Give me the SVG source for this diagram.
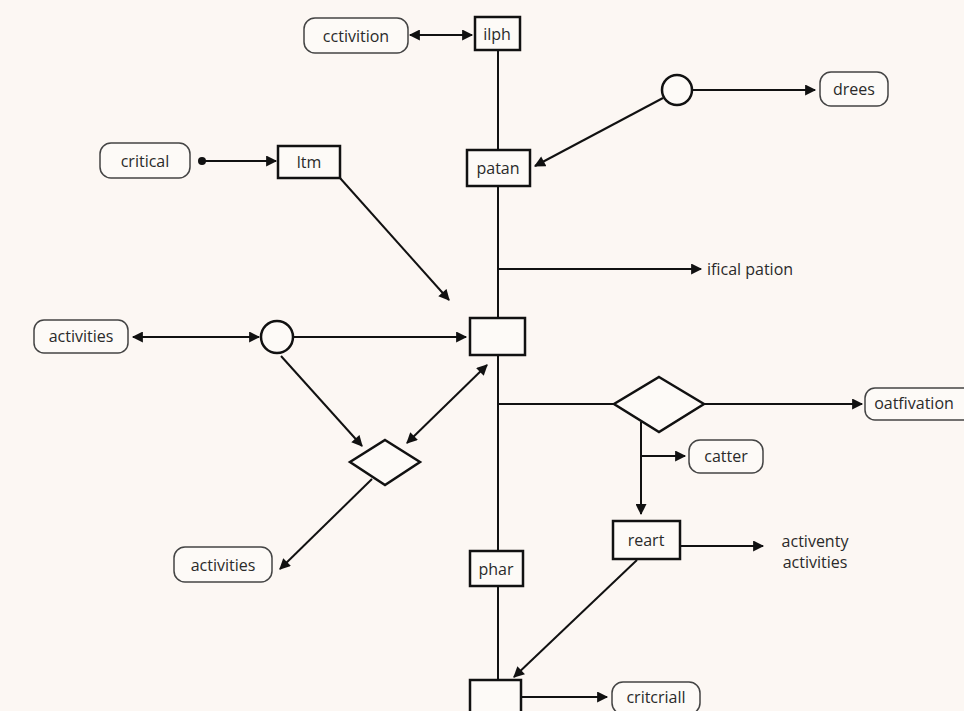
<svg xmlns="http://www.w3.org/2000/svg" width="964" height="711" viewBox="0 0 964 711">
<defs>
<marker id="ah" viewBox="0 0 10 10" refX="9" refY="5" markerWidth="12" markerHeight="11" markerUnits="userSpaceOnUse" orient="auto-start-reverse"><path d="M0,0 L10,5 L0,10 z" fill="#111"/></marker>
<marker id="dot" viewBox="0 0 10 10" refX="5" refY="5" markerWidth="8" markerHeight="8" markerUnits="userSpaceOnUse"><circle cx="5" cy="5" r="5" fill="#111"/></marker>
</defs>
<style>
.bg{fill:#fcf7f3}
.pill{fill:#fdfaf7;stroke:#444;stroke-width:1.5}
.box{fill:#fdfaf7;stroke:#111;stroke-width:2.5}
.shape{fill:#fdfaf7;stroke:#111;stroke-width:2.5}
.ln{fill:none;stroke:#111;stroke-width:2}
.t{font-family:"Open Sans","Noto Sans","DejaVu Sans",sans-serif;font-size:16px;fill:#2a2a2a;text-anchor:middle;dominant-baseline:central}
</style>
<rect class="bg" width="964" height="711"/>
<g id="connectors">
<line class="ln" x1="498" y1="50" x2="498" y2="680"/>
<line class="ln" x1="410" y1="35" x2="472" y2="35" marker-start="url(#ah)" marker-end="url(#ah)"/>
<line class="ln" x1="693" y1="90" x2="815" y2="90" marker-end="url(#ah)"/>
<line class="ln" x1="663" y1="98" x2="535" y2="166" marker-end="url(#ah)"/>
<line class="ln" x1="202" y1="161" x2="276" y2="161" marker-start="url(#dot)" marker-end="url(#ah)"/>
<line class="ln" x1="340" y1="178" x2="449" y2="300" marker-end="url(#ah)"/>
<line class="ln" x1="498" y1="269" x2="701" y2="269" marker-end="url(#ah)"/>
<line class="ln" x1="133" y1="337" x2="259" y2="337" marker-start="url(#ah)" marker-end="url(#ah)"/>
<line class="ln" x1="293" y1="337" x2="466" y2="337" marker-end="url(#ah)"/>
<line class="ln" x1="281" y1="356" x2="362" y2="446" marker-end="url(#ah)"/>
<line class="ln" x1="407" y1="443" x2="487" y2="365" marker-start="url(#ah)" marker-end="url(#ah)"/>
<line class="ln" x1="372" y1="479" x2="280" y2="569" marker-end="url(#ah)"/>
<line class="ln" x1="498" y1="404" x2="614" y2="404"/>
<line class="ln" x1="704" y1="404" x2="862" y2="404" marker-end="url(#ah)"/>
<line class="ln" x1="641" y1="422" x2="641" y2="514" marker-end="url(#ah)"/>
<line class="ln" x1="641" y1="456" x2="685" y2="456" marker-end="url(#ah)"/>
<line class="ln" x1="680" y1="546" x2="763" y2="546" marker-end="url(#ah)"/>
<line class="ln" x1="637" y1="560" x2="514" y2="677" marker-end="url(#ah)"/>
<line class="ln" x1="521" y1="697" x2="607" y2="697" marker-end="url(#ah)"/>
</g>
<g id="cctivition"><rect class="pill" x="304" y="18" width="104" height="35" rx="11"/><text class="t" x="356" y="36">cctivition</text></g>
<g id="ilph"><rect class="box" x="475" y="17" width="45" height="33"/><text class="t" x="497" y="34">ilph</text></g>
<g id="circle1"><circle class="shape" cx="677" cy="90" r="15"/></g>
<g id="drees"><rect class="pill" x="820" y="72" width="68" height="34" rx="11"/><text class="t" x="854" y="89">drees</text></g>
<g id="patan"><rect class="box" x="467" y="150" width="63" height="36"/><text class="t" x="498" y="168">patan</text></g>
<g id="critical"><rect class="pill" x="100" y="143" width="90" height="35" rx="11"/><text class="t" x="145" y="161">critical</text></g>
<g id="ltm"><rect class="box" x="278" y="146" width="62" height="32"/><text class="t" x="309" y="162">ltm</text></g>
<g id="ifical"><text class="t" x="707" y="269" style="text-anchor:start">ifical pation</text></g>
<g id="center"><rect class="box" x="470" y="318" width="55" height="37"/></g>
<g id="activities1"><rect class="pill" x="34" y="320" width="94" height="33" rx="10"/><text class="t" x="81" y="336">activities</text></g>
<g id="circle2"><circle class="shape" cx="277" cy="337" r="16"/></g>
<g id="diamond1"><polygon class="shape" points="385,440 420,462 385,485 350,462"/></g>
<g id="activities2"><rect class="pill" x="174" y="547" width="98" height="35" rx="11"/><text class="t" x="223" y="565">activities</text></g>
<g id="diamond2"><polygon class="shape" points="659,377 704,404 659,432 614,404"/></g>
<g id="oatfivation"><rect class="pill" x="865" y="388" width="110" height="32" rx="10"/><text class="t" x="914" y="403">oatfivation</text></g>
<g id="catter"><rect class="pill" x="689" y="440" width="74" height="33" rx="11"/><text class="t" x="726" y="456">catter</text></g>
<g id="reart"><rect class="box" x="613" y="521" width="67" height="38"/><text class="t" x="646" y="540">reart</text></g>
<g id="activenty"><text class="t" x="815" y="541">activenty</text><text class="t" x="815" y="562">activities</text></g>
<g id="phar"><rect class="box" x="470" y="551" width="53" height="35"/><text class="t" x="496" y="569">phar</text></g>
<g id="bottom"><rect class="box" x="470" y="680" width="51" height="40"/></g>
<g id="critcriall"><rect class="pill" x="612" y="682" width="88" height="32" rx="11"/><text class="t" x="656" y="697">critcriall</text></g>
</svg>
